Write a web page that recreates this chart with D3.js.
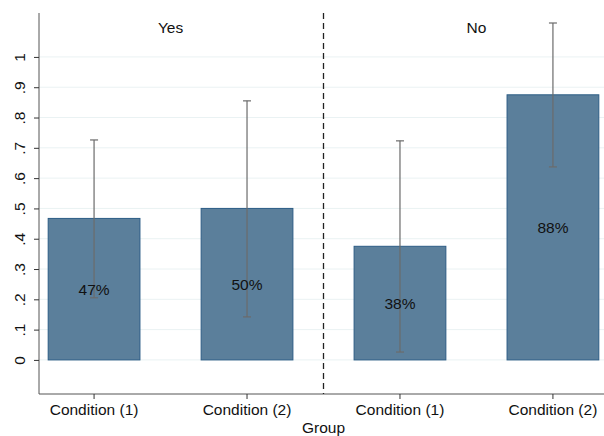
<!DOCTYPE html>
<html>
<head>
<meta charset="utf-8">
<script src="https://cdn.jsdelivr.net/npm/d3@7"></script>
<style>
  html, body { margin: 0; padding: 0; background: #fff; }
  svg { display: block; font-family: "Liberation Sans", Arial, Helvetica, sans-serif; }
</style>
</head>
<body>
<svg id="chart" width="604" height="436"></svg>
<script>
// Share of responses by group and condition, with 95% confidence intervals
const groups = ["Yes", "No"];
const conditions = ["Condition (1)", "Condition (2)"];
const values = [0.467, 0.5, 0.375, 0.875];
const ciLow = [0.205, 0.142, 0.026, 0.637];
const ciHigh = [0.726, 0.855, 0.723, 1.112];
const yTicks = [0, 0.1, 0.2, 0.3, 0.4, 0.5, 0.6, 0.7, 0.8, 0.9, 1];
const yTickLabels = ["0", ".1", ".2", ".3", ".4", ".5", ".6", ".7", ".8", ".9", "1"];

const rows = [];
groups.forEach((g, gi) => conditions.forEach((c, ci) => {
  const i = gi * conditions.length + ci;
  rows.push({ key: g + "|" + c, group: g, cond: c, value: values[i], lo: ciLow[i], hi: ciHigh[i] });
}));

const svg = d3.select("#chart");
const plotL = 39, plotR = 604, plotT = 13, plotB = 394;
const fs = 15.5;

const y = d3.scaleLinear().domain([-0.1125, 1.145]).range([plotB, plotT]);
const x = d3.scaleBand().domain(rows.map(d => d.key))
  .range([plotL, 608]).paddingInner(0.4).paddingOuter(0.06);

// gridlines
svg.append("g").selectAll("line").data(yTicks).join("line")
  .attr("x1", plotL).attr("x2", plotR)
  .attr("y1", d => y(d)).attr("y2", d => y(d))
  .attr("stroke", "#eaf2f3").attr("stroke-width", 1);

// bars
svg.append("g").selectAll("rect").data(rows).join("rect")
  .attr("x", d => x(d.key)).attr("width", x.bandwidth())
  .attr("y", d => y(d.value)).attr("height", d => y(0) - y(d.value))
  .attr("fill", "#5b7f9b").attr("stroke", "#2c5c85").attr("stroke-width", 1);

// confidence intervals
const ciG = svg.append("g").attr("stroke", "#6b6b6b").attr("stroke-width", 1.2);
rows.forEach(d => {
  const cx = x(d.key) + x.bandwidth() / 2;
  ciG.append("line").attr("x1", cx).attr("x2", cx).attr("y1", y(d.lo)).attr("y2", y(d.hi));
  ciG.append("line").attr("x1", cx - 4).attr("x2", cx + 4).attr("y1", y(d.lo)).attr("y2", y(d.lo));
  ciG.append("line").attr("x1", cx - 4).attr("x2", cx + 4).attr("y1", y(d.hi)).attr("y2", y(d.hi));
});

// value labels at bar mid-height
svg.append("g").selectAll("text").data(rows).join("text")
  .attr("x", d => x(d.key) + x.bandwidth() / 2)
  .attr("y", d => y(d.value / 2))
  .attr("dy", "0.35em").attr("text-anchor", "middle")
  .attr("font-size", fs).attr("fill", "#111")
  .text(d => Math.round(d.value * 100) + "%");

// y axis
const yAxis = d3.axisLeft(y).tickValues(yTicks).tickSize(5).tickPadding(12)
  .tickFormat((d, i) => yTickLabels[i]);
const gy = svg.append("g").attr("transform", `translate(${plotL},0)`).call(yAxis);
gy.select(".domain").attr("d", `M0,${plotT}V${plotB}`).attr("stroke", "#555");
gy.selectAll(".tick line").attr("stroke", "#333");
gy.selectAll(".tick text")
  .attr("font-size", fs).attr("fill", "#111")
  .attr("font-family", "Liberation Sans, Arial, sans-serif")
  .attr("text-anchor", "middle")
  .attr("transform", "translate(-19,0) rotate(-90)")
  .attr("x", 0).attr("y", 0).attr("dy", "0.35em");

// x axis
const xAxis = d3.axisBottom(x).tickSize(5).tickPadding(5).tickFormat(k => k.split("|")[1]);
const gx = svg.append("g").attr("transform", `translate(0,${plotB})`).call(xAxis);
gx.select(".domain").attr("d", `M${plotL},0H${plotR}`).attr("stroke", "#555");
gx.selectAll(".tick line").attr("stroke", "#333");
gx.selectAll(".tick text").attr("font-size", fs).attr("fill", "#111")
  .attr("font-family", "Liberation Sans, Arial, sans-serif");

// group divider
const divX = (x(rows[1].key) + x.bandwidth() + x(rows[2].key)) / 2;
svg.append("line").attr("x1", divX).attr("x2", divX).attr("y1", plotT).attr("y2", plotB)
  .attr("stroke", "#222").attr("stroke-width", 1.3).attr("stroke-dasharray", "6,4");

// group headers
groups.forEach((g, gi) => {
  const a = x(rows[gi * 2].key), b = x(rows[gi * 2 + 1].key) + x.bandwidth();
  svg.append("text").attr("x", (a + b) / 2).attr("y", 33)
    .attr("text-anchor", "middle").attr("font-size", fs).attr("fill", "#111").text(g);
});

// axis title
svg.append("text").attr("x", divX).attr("y", 433).attr("text-anchor", "middle")
  .attr("font-size", fs).attr("fill", "#111").text("Group");
</script>
</body>
</html>
